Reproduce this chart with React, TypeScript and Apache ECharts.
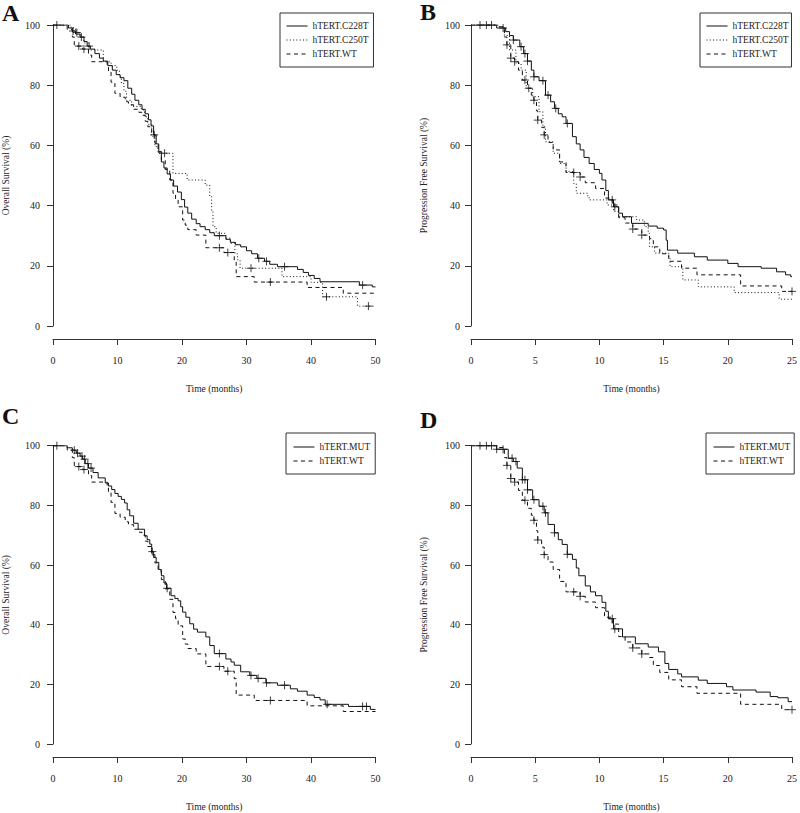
import React, { useEffect, useRef } from "react";
import * as echarts from "echarts";

// ---------------- Data ----------------
// Axis tick labels
const X_TICKS_OS = [0, 10, 20, 30, 40, 50];
const X_TICKS_PFS = [0, 5, 10, 15, 20, 25];
const Y_TICKS = [0, 20, 40, 60, 80, 100];

// Overall survival, hTERT.C228T (panel A, solid)
const OS_C228T_T = [0, 2.4, 3.0, 3.5, 4.2, 4.8, 5.3, 5.8, 6.5, 7.2, 7.8, 8.5, 9.2, 9.8, 10.4, 11.0, 11.6, 12.2, 12.7, 13.3, 13.8, 14.3, 14.8, 15.2, 15.6, 16.0, 16.4, 16.8, 17.2, 17.7, 18.2, 18.7, 19.3, 19.9, 20.4, 20.9, 21.5, 22.2, 22.8, 23.6, 24.3, 25.0, 26.8, 27.5, 28.3, 29.1, 30.0, 30.8, 31.7, 32.8, 33.6, 34.8, 37.9, 38.8, 39.6, 40.5, 41.4, 47.5, 49.5, 50];
const OS_C228T_S = [100, 99, 98, 97, 96, 94.5, 93, 92, 90.5, 89, 88, 86.5, 85, 83.5, 82.5, 81.5, 79, 77, 75, 73.5, 72, 70.5, 68.5, 66.5, 63.5, 60.5, 57.5, 54.5, 52.5, 50.5, 48.5, 46.5, 44.5, 42, 39.5, 37.5, 35.5, 34, 33, 32, 31, 30, 28.8, 27.8, 27, 26.3, 25, 24, 22.5, 21.5, 20.5, 19.7, 18.8, 17.8, 16.8, 15.8, 14.7, 13.6, 13.0, 13.0];
const OS_C228T_CENS_T = [0.6, 3.1, 4.4, 5.6, 15.7, 25.8, 31.9, 33.1, 35.9, 48.0];
const OS_C228T_CENS_S = [100, 98, 96, 93, 63.5, 30, 22.5, 21.5, 19.7, 13.6];

// Overall survival, hTERT.C250T (panel A, dotted)
const OS_C250T_T = [0, 2.8, 3.5, 4.2, 4.8, 5.5, 7.8, 9.0, 9.9, 10.3, 10.6, 11.0, 11.4, 12.2, 13.7, 14.2, 14.7, 15.3, 15.8, 16.3, 18.6, 20.8, 23.6, 24.3, 24.6, 24.8, 25.3, 26.8, 27.5, 28.2, 28.6, 29.0, 35.5, 40.0, 41.8, 47.2, 50];
const OS_C250T_S = [100, 99, 97.5, 96, 94, 91.7, 87.8, 86.5, 85, 82.8, 80.6, 78, 75, 72.9, 71.8, 69.5, 67, 62.9, 59.6, 57.4, 50.7, 48.5, 46.8, 43, 38, 33, 30.8, 29.2, 27.5, 24, 22, 19.2, 16.4, 14.5, 9.7, 6.6, 6.6];
const OS_C250T_CENS_T = [3.7, 17.3, 30.7, 42.4, 48.9];
const OS_C250T_CENS_S = [97.5, 57.4, 19.2, 9.7, 6.6];

// Overall survival, hTERT.WT (panels A and C, dashed)
const OS_WT_T = [0, 2.2, 3.0, 3.3, 4.6, 5.5, 6.0, 8.4, 8.6, 9.0, 9.6, 10.4, 11.2, 11.7, 12.5, 13.3, 13.8, 14.3, 14.7, 15.3, 15.8, 16.3, 16.8, 17.4, 18.1, 18.6, 19.0, 19.4, 20.1, 20.5, 20.9, 22.2, 23.7, 26.5, 28.1, 28.4, 31.2, 39.4, 45.0, 50];
const OS_WT_S = [100, 98.5, 96, 93, 92, 90, 87.8, 86, 84.5, 81, 77.3, 76, 74.5, 73.5, 72, 71, 70, 68, 66.2, 63.5, 60.7, 58, 55.1, 52, 48.5, 44.1, 42, 39.6, 35.2, 33.5, 32, 30.2, 26, 24.4, 21.9, 16.4, 14.6, 12.8, 10.9, 10.9];
const OS_WT_CENS_T = [4.0, 4.8, 25.8, 27.1, 33.7];
const OS_WT_CENS_S = [93, 92, 26, 24.4, 14.6];

// Overall survival, hTERT.MUT (panel C, solid)
const OS_MUT_T = [0, 2.2, 3.0, 3.6, 4.2, 4.6, 5.0, 5.5, 6.2, 7.0, 8.1, 8.6, 9.1, 9.6, 10.1, 10.6, 11.1, 11.5, 11.9, 12.5, 13.2, 14.2, 14.6, 15.0, 15.3, 15.6, 16.0, 16.4, 16.8, 17.2, 17.6, 18.3, 18.9, 19.4, 19.8, 20.1, 20.6, 21.2, 21.8, 22.4, 23.7, 24.3, 25.0, 26.8, 27.6, 28.1, 29.1, 30.5, 31.6, 33.0, 34.8, 36.8, 37.9, 39.4, 40.5, 41.4, 42.2, 45.8, 49.2, 50];
const OS_MUT_S = [100, 99.3, 98.5, 97.5, 96.5, 95.5, 94, 92.5, 91, 89.2, 87.5, 86.5, 85.3, 84, 83, 82, 80.8, 78.5, 76.5, 74, 72, 69.8, 68.5, 67, 64.5, 62.5, 60.9, 58.5, 56.4, 54, 52.2, 49.7, 48.8, 48, 46, 44.2, 42.5, 40.3, 38.5, 37.5, 35.9, 33, 30.3, 28.5, 27.5, 26.4, 24.2, 23, 22, 20.5, 19.7, 18.5, 17.7, 16.4, 15.6, 14.8, 13.3, 12.6, 11.6, 11.6];
const OS_MUT_CENS_T = [0.6, 3.3, 3.8, 4.5, 4.9, 5.4, 5.9, 15.4, 17.7, 25.8, 30.7, 31.8, 33.1, 35.9, 42.5, 48.0, 48.6];
const OS_MUT_CENS_S = [100, 98.5, 97.5, 96.5, 95.5, 94, 92.5, 64.5, 52.2, 30.3, 23, 22, 20.5, 19.7, 13.3, 12.6, 12.6];

// Progression free survival, hTERT.C228T (panel B, solid)
const PFS_C228T_T = [0, 2.0, 2.7, 3.0, 3.3, 3.8, 4.1, 4.4, 4.7, 4.9, 5.3, 5.8, 6.2, 6.5, 6.8, 7.1, 7.4, 7.9, 8.2, 8.5, 8.8, 9.2, 9.6, 10.0, 10.2, 10.5, 10.7, 11.1, 11.5, 11.8, 12.5, 13.8, 14.5, 15.0, 15.2, 15.3, 16.1, 17.4, 18.4, 20.0, 20.8, 22.6, 23.8, 24.5, 24.9, 25];
const PFS_C228T_S = [100, 99, 97.8, 96.5, 95, 92.8, 90.5, 88, 85, 82.8, 81.5, 76.7, 74.5, 72.3, 70.5, 69.5, 67.3, 62.9, 60.5, 58.5, 56, 54, 52, 50.7, 48.5, 45, 41.9, 39.6, 37.5, 36.3, 34.1, 33.2, 32.5, 31.9, 28.5, 25.2, 24.2, 23, 21.9, 20.8, 19.7, 19.2, 18, 17, 16.4, 16.4];
const PFS_C228T_CENS_T = [0.7, 1.2, 1.6, 2.5, 3.3, 3.9, 4.2, 4.4, 4.9, 5.6, 6.0, 6.6, 7.5, 11.0, 11.2];
const PFS_C228T_CENS_S = [100, 100, 100, 99, 95, 92.8, 90.5, 88, 82.8, 81.5, 76.7, 72.3, 67.3, 41.9, 39.6];

// Progression free survival, hTERT.C250T (panel B, dotted)
const PFS_C250T_T = [0, 2.2, 2.6, 3.0, 3.5, 3.9, 4.3, 4.8, 5.3, 5.6, 5.8, 6.4, 6.9, 7.4, 8.0, 8.2, 9.1, 9.2, 10.6, 11.1, 11.5, 12.9, 13.5, 13.8, 13.9, 14.3, 15.4, 15.5, 16.5, 17.7, 20.5, 24.0, 25];
const PFS_C250T_S = [100, 99.4, 96.5, 91.7, 87.3, 85, 79, 76.2, 71.2, 66.2, 61.2, 57.4, 54, 51.3, 47.4, 44.1, 43, 41.9, 40.2, 38, 36.3, 35.2, 33, 30.8, 26.3, 24.2, 22.5, 19.7, 15.3, 13, 11.1, 8.9, 8.9];
const PFS_C250T_CENS_T = [4.5];
const PFS_C250T_CENS_S = [79];

// Progression free survival, hTERT.WT (panels B and D, dashed)
const PFS_WT_T = [0, 2.2, 2.6, 2.8, 3.1, 3.4, 3.7, 4.0, 4.4, 4.7, 4.9, 5.1, 5.2, 5.5, 5.7, 6.0, 6.4, 6.9, 7.4, 8.5, 8.9, 9.7, 10.4, 11.0, 11.5, 12.0, 12.6, 13.3, 13.9, 14.2, 14.7, 15.4, 16.4, 17.6, 21.0, 24.2, 25];
const PFS_WT_S = [100, 99.4, 96, 93.4, 89, 87.8, 85, 81.7, 79, 76.7, 75, 71.5, 68.4, 66, 63.5, 61, 58.5, 54.5, 51, 49.5, 47.6, 45.7, 42.5, 40.2, 36, 34.2, 32.2, 30.2, 29, 26.3, 24, 21.5, 19.2, 17, 13.3, 11.5, 11.5];
const PFS_WT_CENS_T = [2.8, 3.1, 3.4, 4.2, 4.9, 5.2, 5.7, 8.0, 8.5, 12.6, 13.3, 25];
const PFS_WT_CENS_S = [93.4, 89, 87.8, 81.7, 75, 68.4, 63.5, 51, 49.5, 32.2, 30.2, 11.5];

// Progression free survival, hTERT.MUT (panel D, solid)
const PFS_MUT_T = [0, 2.0, 2.9, 3.3, 3.6, 4.0, 4.4, 4.8, 5.3, 5.7, 6.0, 6.5, 6.8, 7.1, 7.5, 7.9, 8.2, 8.4, 8.9, 9.3, 9.7, 10.2, 10.5, 10.7, 11.1, 11.8, 12.8, 13.8, 14.6, 15.1, 15.4, 16.1, 16.4, 17.7, 18.4, 19.9, 20.4, 22.2, 23.3, 23.9, 24.7, 25];
const PFS_MUT_S = [100, 98.8, 95.8, 94.7, 92.5, 88.6, 85.2, 81.9, 79.7, 77.5, 73.6, 70.8, 68.5, 66.9, 63.6, 61.9, 59, 56.4, 53, 51, 49.7, 47.5, 44.5, 42, 38.6, 35.9, 33.6, 32.5, 30.9, 27, 25, 23.5, 22.5, 21.4, 20.3, 19.2, 18.1, 17.4, 15.9, 15.5, 14.2, 14.2];
const PFS_MUT_CENS_T = [0.7, 1.2, 1.6, 2.0, 2.5, 3.2, 3.5, 4.0, 4.2, 4.4, 4.9, 5.6, 5.8, 6.5, 7.5, 11.0, 11.2];
const PFS_MUT_CENS_S = [100, 100, 100, 98.8, 98.8, 95.8, 94.7, 88.6, 88.6, 85.2, 81.9, 79.7, 77.5, 70.8, 63.6, 42, 38.6];

// ---------------- Styling ----------------
const FONT = "Liberation Serif";
const INK = "#111";
const AXIS_COLOR = "#333";
const TEXT_COLOR = "#222";
const SOLID: any = "solid";
const DOTTED: any = [1, 2.3];
const DASHED: any = [4, 3.5];
const CROSS = "path://M4,0V8M0,4H8";

const zip = (t: number[], s: number[]) => t.map((x, i) => [x, s[i]]);

type Curve = { name: string; t: number[]; s: number[]; ct: number[]; cs: number[]; dash: any };

const PANELS = [
  {
    letter: "A", lx: 2, ly: 12.5,
    grid: { left: 51, top: 25, width: 324.5, height: 301 },
    xTicks: X_TICKS_OS, yName: "Overall Survival (%)", labelMargin: 13,
    legend: { left: 280, top: 13, padding: [8, 5, 8, 6] },
    curves: [
      { name: "hTERT.C228T", t: OS_C228T_T, s: OS_C228T_S, ct: OS_C228T_CENS_T, cs: OS_C228T_CENS_S, dash: SOLID },
      { name: "hTERT.C250T", t: OS_C250T_T, s: OS_C250T_S, ct: OS_C250T_CENS_T, cs: OS_C250T_CENS_S, dash: DOTTED },
      { name: "hTERT.WT", t: OS_WT_T, s: OS_WT_S, ct: OS_WT_CENS_T, cs: OS_WT_CENS_S, dash: DASHED },
    ] as Curve[],
  },
  {
    letter: "B", lx: 420, ly: 12,
    grid: { left: 471, top: 25, width: 324, height: 301 },
    xTicks: X_TICKS_PFS, yName: "Progression Free Survival (%)", labelMargin: 11,
    legend: { left: 700, top: 13, padding: [8, 3, 8, 6] },
    curves: [
      { name: "hTERT.C228T", t: PFS_C228T_T, s: PFS_C228T_S, ct: PFS_C228T_CENS_T, cs: PFS_C228T_CENS_S, dash: SOLID },
      { name: "hTERT.C250T", t: PFS_C250T_T, s: PFS_C250T_S, ct: PFS_C250T_CENS_T, cs: PFS_C250T_CENS_S, dash: DOTTED },
      { name: "hTERT.WT", t: PFS_WT_T, s: PFS_WT_S, ct: PFS_WT_CENS_T, cs: PFS_WT_CENS_S, dash: DASHED },
    ] as Curve[],
  },
  {
    letter: "C", lx: 2, ly: 416,
    grid: { left: 51, top: 445.7, width: 324.5, height: 300.3 },
    xTicks: X_TICKS_OS, yName: "Overall Survival (%)", labelMargin: 13,
    legend: { left: 286, top: 433, padding: [9, 5, 8, 7] },
    curves: [
      { name: "hTERT.MUT", t: OS_MUT_T, s: OS_MUT_S, ct: OS_MUT_CENS_T, cs: OS_MUT_CENS_S, dash: SOLID },
      { name: "hTERT.WT", t: OS_WT_T, s: OS_WT_S, ct: OS_WT_CENS_T, cs: OS_WT_CENS_S, dash: DASHED },
    ] as Curve[],
  },
  {
    letter: "D", lx: 420, ly: 420,
    grid: { left: 471, top: 445.7, width: 324, height: 300.3 },
    xTicks: X_TICKS_PFS, yName: "Progression Free Survival (%)", labelMargin: 11,
    legend: { left: 706, top: 433, padding: [9, 4, 8, 7] },
    curves: [
      { name: "hTERT.MUT", t: PFS_MUT_T, s: PFS_MUT_S, ct: PFS_MUT_CENS_T, cs: PFS_MUT_CENS_S, dash: SOLID },
      { name: "hTERT.WT", t: PFS_WT_T, s: PFS_WT_S, ct: PFS_WT_CENS_T, cs: PFS_WT_CENS_S, dash: DASHED },
    ] as Curve[],
  },
];

function buildOption() {
  const grid: any[] = [];
  const xAxis: any[] = [];
  const yAxis: any[] = [];
  const series: any[] = [];
  const legend: any[] = [];
  const graphic: any[] = [];

  PANELS.forEach((p, gi) => {
    grid.push({ ...p.grid, containLabel: false });
    const xt = p.xTicks;
    xAxis.push({
      type: "value", gridIndex: gi,
      min: xt[0], max: xt[xt.length - 1], interval: xt[1] - xt[0],
      offset: 13,
      axisLine: { show: true, onZero: false, lineStyle: { color: AXIS_COLOR, width: 1 } },
      axisTick: { show: true, length: 6, lineStyle: { color: AXIS_COLOR, width: 1 } },
      axisLabel: { margin: 16, fontFamily: FONT, fontSize: 10, color: TEXT_COLOR },
      splitLine: { show: false },
      name: "Time (months)", nameLocation: "middle", nameGap: 45,
      nameTextStyle: { fontFamily: FONT, fontSize: 9.5, color: TEXT_COLOR },
    });
    yAxis.push({
      type: "value", gridIndex: gi,
      min: Y_TICKS[0], max: Y_TICKS[Y_TICKS.length - 1], interval: Y_TICKS[1] - Y_TICKS[0],
      axisLine: { show: true, onZero: false, lineStyle: { color: AXIS_COLOR, width: 1 } },
      axisTick: { show: true, length: 6, lineStyle: { color: AXIS_COLOR, width: 1 } },
      axisLabel: { margin: p.labelMargin, fontFamily: FONT, fontSize: 10, color: TEXT_COLOR },
      splitLine: { show: false },
      name: p.yName, nameLocation: "middle", nameGap: 42, nameRotate: 90,
      nameTextStyle: { fontFamily: FONT, fontSize: 9.5, color: TEXT_COLOR },
    });
    p.curves.forEach((c) => {
      series.push({
        type: "line", name: c.name, xAxisIndex: gi, yAxisIndex: gi,
        step: "end", symbol: "none", data: zip(c.t, c.s),
        lineStyle: { color: INK, width: 1, type: c.dash },
        itemStyle: { color: INK },
        silent: true, z: 3,
      });
    });
    p.curves.forEach((c) => {
      series.push({
        type: "scatter", name: c.name + " (censored, " + p.letter + ")", xAxisIndex: gi, yAxisIndex: gi,
        symbol: CROSS, symbolSize: 8, data: zip(c.ct, c.cs),
        itemStyle: { color: "rgba(0,0,0,0)", borderColor: INK, borderWidth: 1 },
        silent: true, z: 4,
      });
    });
    legend.push({
      show: true, orient: "vertical",
      left: p.legend.left, top: p.legend.top, padding: p.legend.padding,
      itemWidth: 21, itemHeight: 10, itemGap: 4,
      borderColor: AXIS_COLOR, borderWidth: 1, borderRadius: 0,
      selectedMode: false,
      itemStyle: { opacity: 0, color: "rgba(0,0,0,0)", borderColor: "rgba(0,0,0,0)", borderWidth: 0 },
      lineStyle: { width: 1, color: INK },
      data: p.curves.map((c) => c.name),
      textStyle: { fontFamily: FONT, fontSize: 9.5, color: TEXT_COLOR },
    });
    graphic.push({
      type: "text", x: p.lx, y: p.ly, silent: true,
      style: { text: p.letter, fontFamily: FONT, fontWeight: "bold", fontSize: 24, fill: INK, align: "left", verticalAlign: "middle" },
    });
  });

  return {
    animation: false,
    backgroundColor: "#fff",
    textStyle: { fontFamily: FONT },
    grid, xAxis, yAxis, series, legend, graphic,
  };
}

export default function App() {
  const ref = useRef<HTMLDivElement>(null);
  useEffect(() => {
    if (!ref.current) return;
    const chart = echarts.init(ref.current, null, { renderer: "svg" });
    chart.setOption(buildOption() as any);
    return () => chart.dispose();
  }, []);
  return (
    <div
      ref={ref}
      style={{ position: "absolute", left: 0, top: 0, width: 800, height: 813, background: "#fff" }}
    />
  );
}
